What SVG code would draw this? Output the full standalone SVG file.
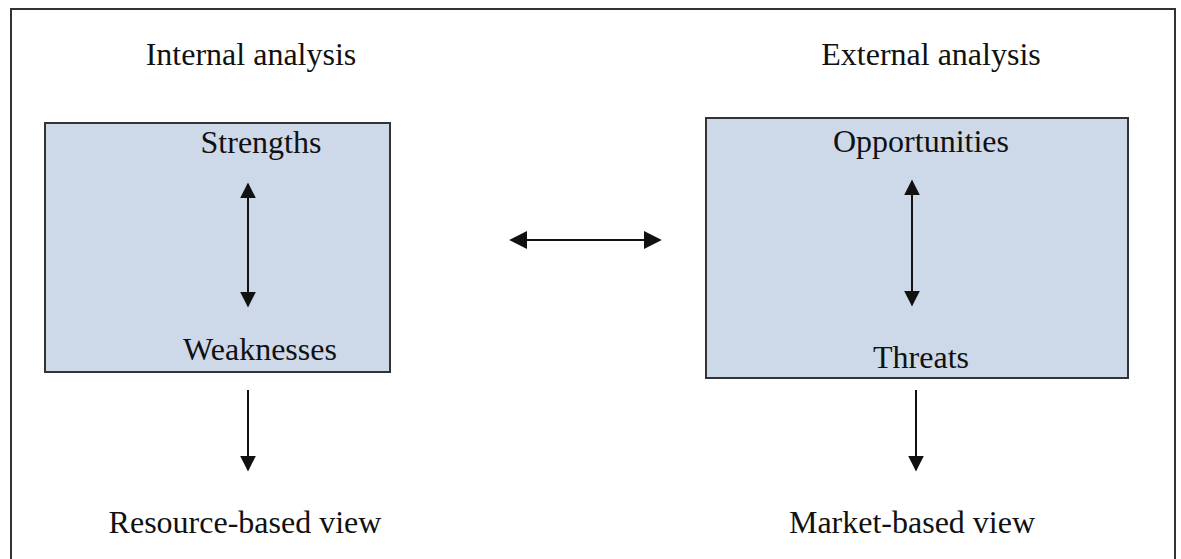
<svg xmlns="http://www.w3.org/2000/svg" width="1181" height="559" viewBox="0 0 1181 559">
<style>
.t{font-family:"Liberation Serif","Times New Roman",serif;font-size:32px;fill:#111;text-anchor:middle}
.box{fill:#cdd9e8;stroke:#333;stroke-width:2}
.c{stroke:#111;stroke-width:2;fill:none}
</style>
<defs>
<marker id="ah2" viewBox="0 0 10 10" refX="9" refY="5" markerWidth="16" markerHeight="16" markerUnits="userSpaceOnUse" orient="auto-start-reverse">
<path d="M0,0 L10,5 L0,10 z" fill="#111"/>
</marker>
<marker id="ah3" viewBox="0 0 10 10" refX="9" refY="5" markerWidth="18" markerHeight="18" markerUnits="userSpaceOnUse" orient="auto-start-reverse">
<path d="M0,0 L10,5 L0,10 z" fill="#111"/>
</marker>
</defs>
<rect x="0" y="0" width="1181" height="559" fill="#fff"/>
<path d="M11,570 V9 H1175 V570" fill="none" stroke="#333" stroke-width="2"/>
<g id="internal-label"><text class="t" x="251" y="65">Internal analysis</text></g>
<g id="external-label"><text class="t" x="931" y="65">External analysis</text></g>
<g id="internal-box">
<rect class="box" x="45" y="123" width="345" height="249"/>
<text class="t" x="261" y="153">Strengths</text>
<text class="t" x="260" y="360">Weaknesses</text>
</g>
<g id="external-box">
<rect class="box" x="706" y="118" width="422" height="260"/>
<text class="t" x="921" y="152">Opportunities</text>
<text class="t" x="921" y="368">Threats</text>
</g>
<g id="rbv"><text class="t" x="245" y="533">Resource-based view</text></g>
<g id="mbv"><text class="t" x="912" y="533">Market-based view</text></g>
<g id="connectors">
<line class="c" x1="248" y1="184" x2="248" y2="306" marker-start="url(#ah2)" marker-end="url(#ah2)"/>
<line class="c" x1="912" y1="181" x2="912" y2="305" marker-start="url(#ah2)" marker-end="url(#ah2)"/>
<line class="c" x1="248" y1="390" x2="248" y2="470" marker-end="url(#ah2)"/>
<line class="c" x1="916" y1="390" x2="916" y2="470" marker-end="url(#ah2)"/>
<line class="c" x1="511" y1="240" x2="660" y2="240" stroke-width="4" marker-start="url(#ah3)" marker-end="url(#ah3)"/>
</g>
</svg>
